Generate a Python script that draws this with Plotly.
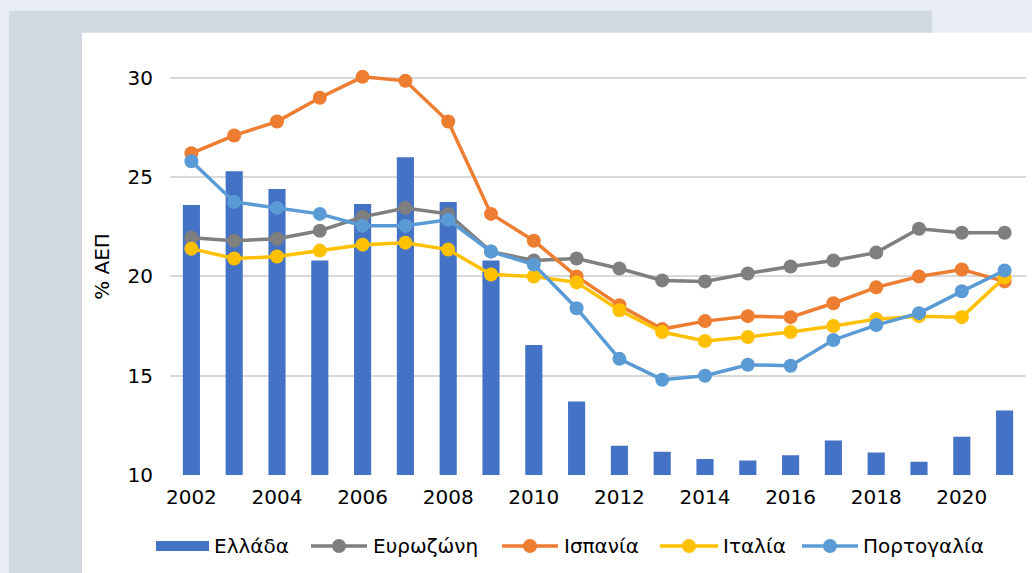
import plotly.graph_objects as go

years = list(range(2002, 2022))
greece = [23.6, 25.3, 24.4, 20.8, 23.65, 26.0, 23.75, 20.8, 16.55, 13.7,
          11.47, 11.17, 10.8, 10.73, 11.0, 11.74, 11.13, 10.67, 11.93, 13.25]
eurozone = [21.95, 21.8, 21.9, 22.3, 23.0, 23.45, 23.15, 21.25, 20.8, 20.9,
            20.4, 19.8, 19.75, 20.15, 20.5, 20.8, 21.2, 22.4, 22.2, 22.2]
spain = [26.2, 27.1, 27.8, 29.0, 30.05, 29.85, 27.8, 23.15, 21.8, 20.0,
         18.55, 17.35, 17.75, 18.0, 17.95, 18.65, 19.45, 20.0, 20.35, 19.75]
italy = [21.4, 20.9, 21.0, 21.3, 21.6, 21.7, 21.35, 20.1, 20.0, 19.7,
         18.3, 17.2, 16.75, 16.95, 17.2, 17.5, 17.85, 18.0, 17.95, 19.95]
portugal = [25.8, 23.75, 23.45, 23.15, 22.55, 22.55, 22.85, 21.25, 20.6, 18.4,
            15.85, 14.8, 15.0, 15.55, 15.5, 16.8, 17.55, 18.15, 19.25, 20.3]
x_ticks = list(range(2002, 2021, 2))
y_ticks = [10, 15, 20, 25, 30]

FONT = "DejaVu Sans, Open Sans, sans-serif"
W, H = 1032, 573
Y_MIN, Y_MAX = 10, 31
PX_PER_UNIT = 19.85
BOTTOM = 475
L, R = 170, 6
PH = (Y_MAX - Y_MIN) * PX_PER_UNIT
T = BOTTOM - PH
B = H - BOTTOM
PW = W - L - R

def px(xp):
    return (xp - L) / PW

def py(yp):
    return (BOTTOM - yp) / PH

BAR_COLOR = "#4472C4"
line_series = [
    ("Ευρωζώνη", eurozone, "#7F7F7F"),
    ("Ισπανία", spain, "#ED7D31"),
    ("Ιταλία", italy, "#FFC000"),
    ("Πορτογαλία", portugal, "#5B9BD5"),
]

fig = go.Figure()
fig.add_trace(go.Bar(x=years, y=greece, name="Ελλάδα", marker_color=BAR_COLOR,
                     marker_line_width=0, base=0, showlegend=False))
for name, vals, col in line_series:
    fig.add_trace(go.Scatter(x=years, y=vals, name=name, mode="lines+markers",
                             line=dict(color=col, width=3.5),
                             marker=dict(color=col, size=14), showlegend=False))

shapes = [
    dict(type="rect", xref="paper", yref="paper", layer="below",
         x0=px(9), x1=px(932), y0=py(H + 5), y1=py(11),
         fillcolor="#D3D9E1", line_width=0),
    dict(type="rect", xref="paper", yref="paper", layer="below",
         x0=px(82), x1=px(W + 5), y0=py(H + 5), y1=py(33),
         fillcolor="#FFFFFF", line_width=0),
]
annotations = []

# custom legend (symbol start, symbol end, text start) in pixels
LEG_Y = 546
leg_bar = (156, 209, 212)
leg_lines = [(311, 367, 371), (502, 558, 562), (660, 718, 721), (802, 858, 861)]

shapes.append(dict(type="rect", xref="paper", yref="paper",
                   x0=px(leg_bar[0]), x1=px(leg_bar[1]), y0=py(LEG_Y + 5), y1=py(LEG_Y - 5),
                   fillcolor=BAR_COLOR, line_width=0))
annotations.append(dict(text="Ελλάδα", xref="paper", yref="paper", x=px(leg_bar[2]), y=py(LEG_Y),
                        xanchor="left", yanchor="middle", showarrow=False, font=dict(size=20)))
for (name, _, col), (s0, s1, t0) in zip(line_series, leg_lines):
    shapes.append(dict(type="line", xref="paper", yref="paper",
                       x0=px(s0), x1=px(s1), y0=py(LEG_Y), y1=py(LEG_Y),
                       line=dict(color=col, width=3.5)))
    cx = px((s0 + s1) / 2)
    shapes.append(dict(type="circle", xref="paper", yref="paper",
                       xsizemode="pixel", ysizemode="pixel",
                       xanchor=cx, yanchor=py(LEG_Y), x0=-7, x1=7, y0=-7, y1=7,
                       fillcolor=col, line_width=0))
    annotations.append(dict(text=name, xref="paper", yref="paper", x=px(t0), y=py(LEG_Y),
                            xanchor="left", yanchor="middle", showarrow=False, font=dict(size=20)))

fig.update_layout(
    width=W, height=H,
    margin=dict(l=L, r=R, t=T, b=B, pad=0),
    paper_bgcolor="#E8ECF5",
    plot_bgcolor="rgba(0,0,0,0)",
    bargap=0.6,
    font=dict(family=FONT, size=20, color="#000000"),
    showlegend=False,
    shapes=shapes,
    annotations=annotations,
)
fig.update_xaxes(range=[2001.5, 2021.5], tickvals=x_ticks, ticktext=[str(v) for v in x_ticks],
                 showgrid=False, zeroline=False, showline=False, ticks="",
                 ticklabelstandoff=8, tickfont=dict(size=20))
fig.update_yaxes(range=[Y_MIN, Y_MAX], tickvals=y_ticks, showgrid=True, gridcolor="#D9D9D9",
                 gridwidth=1.5, zeroline=False, showline=False, ticks="",
                 ticklabelstandoff=16, tickfont=dict(size=20),
                 title=dict(text="% ΑΕΠ", standoff=12, font=dict(size=20)))

fig.write_html("out.html", config={"displayModeBar": False},
               post_script="document.body.style.margin='0px';")
